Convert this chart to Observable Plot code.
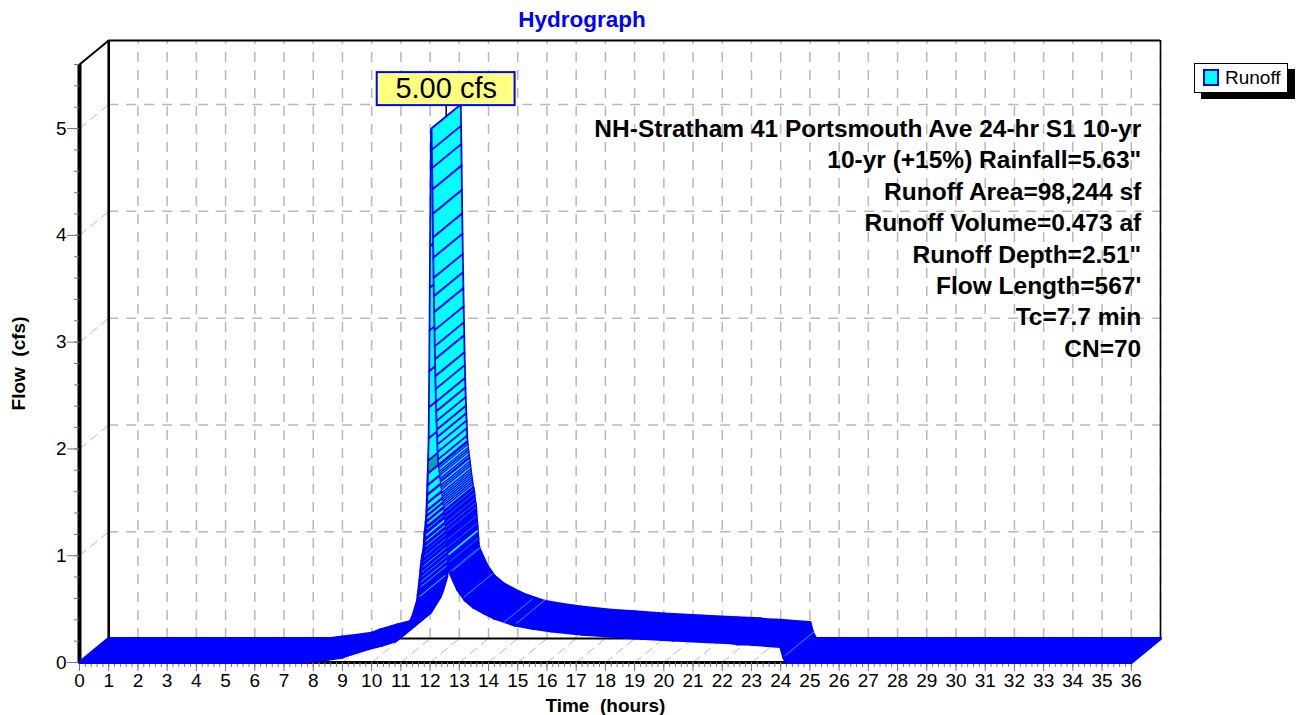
<!DOCTYPE html>
<html>
<head>
<meta charset="utf-8">
<script src="https://cdn.jsdelivr.net/npm/d3@7"></script>
<script src="https://cdn.jsdelivr.net/npm/@observablehq/plot@0.6"></script>
<style>
html,body{margin:0;padding:0;background:#fff;}
#chart{position:absolute;left:0;top:0;width:1302px;height:715px;}
#legend{position:absolute;left:1194px;top:63px;width:92px;height:28px;background:#fff;border:1px solid #000;box-shadow:7px 6px 0 #000;font:19px "Liberation Sans",Arial,sans-serif;color:#000;}
#legend i{position:absolute;left:9px;top:6px;width:12px;height:13px;background:#00ffff;border:1px solid #0000ff;outline:0.5px solid #0000ff;}
#legend span{position:absolute;left:30px;top:3px;}
</style>
</head>
<body>
<div id="chart"></div>
<div id="legend"><i></i><span>Runoff</span></div>
<script>
const titleText = "Hydrograph";
const xTitle = "Time\u00a0 (hours)";
const yTitle = "Flow\u00a0 (cfs)";
const seriesName = "Runoff";
const peakLabel = "5.00 cfs";
const infoLines = [
  "NH-Stratham 41 Portsmouth Ave 24-hr S1 10-yr",
  "10-yr (+15%) Rainfall=5.63\"",
  "Runoff Area=98,244 sf",
  "Runoff Volume=0.473 af",
  "Runoff Depth=2.51\"",
  "Flow Length=567'",
  "Tc=7.7 min",
  "CN=70"
];
const hourTicks = d3.range(0, 37);
const flowTicks = [0, 1, 2, 3, 4, 5];
const minorHourTicks = d3.range(0, 36.01, 0.2);
const minorFlowTicks = d3.range(0, 5.61, 0.2);
const depthHours = 1;
const depthFlow = 0.2247;
const wallTop = 5.6;

// early rise (hours, cfs)
const baseHours = [0, 7.6, 8, 8.5, 9, 9.3, 9.9, 10.34, 10.8, 11.03, 11.34, 11.43, 11.57];
const baseFlow = [0, 0, 0.015, 0.03, 0.05, 0.08, 0.13, 0.16, 0.2, 0.25, 0.39, 0.45, 0.58];
// steep rise
const riseHours = [11.57, 11.59, 11.61, 11.63, 11.65, 11.67, 11.68, 11.7, 11.72, 11.74, 11.78, 11.8, 11.81, 11.82, 11.85, 11.86, 11.87, 11.88, 11.89, 11.9, 11.91, 11.92, 11.93, 11.95, 11.96, 11.97, 11.98, 11.99, 12, 12.03, 12.05];
const riseFlow = [0.58, 0.63, 0.67, 0.72, 0.77, 0.815, 0.86, 0.91, 0.955, 1, 1.05, 1.1, 1.15, 1.21, 1.26, 1.32, 1.37, 1.42, 1.49, 1.57, 1.66, 1.77, 1.89, 2.1, 2.39, 2.73, 3.11, 3.51, 3.9, 4.98, 5];
// steep fall, one reading per 0.01 hour from the peak
const fallStart = 12.05;
const fallFlow = [5, 4.8, 4.63, 4.43, 4.2, 3.98, 3.79, 3.6, 3.43, 3.28, 3.11, 2.96, 2.84, 2.68, 2.56, 2.44, 2.35, 2.26, 2.18, 2.11, 2.04, 1.97, 1.9, 1.85, 1.84, 1.82, 1.79, 1.77, 1.75, 1.72, 1.7, 1.69, 1.66, 1.64, 1.62, 1.59, 1.57, 1.55, 1.53, 1.51, 1.49, 1.47, 1.45, 1.42, 1.4, 1.38, 1.36, 1.34, 1.31, 1.29, 1.27, 1.25, 1.23, 1.19, 1.15, 1.11, 1.08, 1.05, 1.01, 0.97, 0.94, 0.89, 0.85];
// long recession
const tailHours = [12.67, 12.8, 12.95, 13.2, 13.5, 13.87, 14.2, 14.9, 15.5, 16.16, 17.2, 18, 19, 20.3, 21.5, 22.3, 22.5, 23, 23.5, 24, 24.1, 24.2, 36];
const tailFlow = [0.85, 0.77, 0.68, 0.585, 0.515, 0.46, 0.415, 0.35, 0.32, 0.295, 0.265, 0.25, 0.23, 0.21, 0.195, 0.185, 0.175, 0.17, 0.16, 0.15, 0.05, 0, 0];
// thin bright lines left in the solid ribbon
const glintHours = [12.77, 13.15, 14.5, 14.95, 24.15];
const glintFlow = [0.86, 0.61, 0.37, 0.365, 0.065];

const fallHours = fallFlow.map((_, i) => fallStart + i * 0.01);
const peak = 5;
const peakHour = 12.05;

function quads(h, q, from = 0, to = h.length - 1) {
  const rows = [];
  for (let i = from; i < to; i++) {
    const id = i;
    rows.push({id, x: h[i], y: q[i]});
    rows.push({id, x: h[i + 1], y: q[i + 1]});
    rows.push({id, x: h[i + 1] + depthHours, y: q[i + 1] + depthFlow});
    rows.push({id, x: h[i] + depthHours, y: q[i] + depthFlow});
    rows.push({id, x: h[i], y: q[i]});
  }
  return rows;
}
const ribbon = (rows, fill, w = 1.8) =>
  Plot.line(rows, {x: "x", y: "y", z: "id", fill, stroke: "#0000ff", strokeWidth: w, curve: "linear", strokeLinejoin: "round"});

const gray = "#b8b8b8";
const dash = {stroke: gray, strokeWidth: 1.5, strokeDasharray: "10,8"};
const dashDiag = {stroke: gray, strokeWidth: 1, strokeDasharray: "9,5"};
const font = '"Liberation Sans",Arial,sans-serif';
const riseLowEnd = riseFlow.indexOf(1.32);
const tealStart = riseFlow.indexOf(1.77);
const fallDenseStart = fallFlow.indexOf(1.85);
const fallLowStart = fallFlow.indexOf(1.42);
const fallGlints = fallFlow.map((q, i) => ({q, h: fallHours[i], i})).filter(d => d.i >= fallLowStart && d.i % 2 === 0);
const fallBright = fallGlints.filter(d => d.q === 1.01 || d.q === 1.05);

const chart = Plot.plot({
  width: 1302,
  height: 715,
  marginLeft: 79,
  marginRight: 142,
  marginTop: 40,
  marginBottom: 53,
  style: {fontFamily: font, background: "#fff", color: "#000", overflow: "visible"},
  x: {domain: [0, 37], axis: null},
  y: {domain: [0, wallTop + depthFlow], axis: null},
  marks: [
    // back wall and floor grid
    Plot.ruleX(hourTicks.slice(1), {x: d => d + depthHours, y1: depthFlow, y2: wallTop + depthFlow, ...dash}),
    Plot.ruleY(flowTicks.slice(1), {y: d => d + depthFlow, x1: depthHours, x2: 37, ...dash}),
    Plot.link(hourTicks, {x1: d => d, y1: 0, x2: d => d + depthHours, y2: depthFlow, ...dashDiag}),
    Plot.link(flowTicks.slice(1), {x1: 0, y1: d => d, x2: depthHours, y2: d => d + depthFlow, ...dashDiag}),
    // frame
    Plot.ruleX([depthHours], {y1: depthFlow, y2: wallTop + depthFlow, stroke: "#000", strokeWidth: 2.6}),
    Plot.ruleX([37], {y1: depthFlow, y2: wallTop + depthFlow, stroke: "#000", strokeWidth: 1.6}),
    Plot.ruleY([wallTop + depthFlow], {x1: depthHours, x2: 37, stroke: "#000", strokeWidth: 2}),
    Plot.ruleY([depthFlow], {x1: depthHours, x2: 37, stroke: "#000", strokeWidth: 2}),
    Plot.link([0], {x1: 0, y1: wallTop, x2: depthHours, y2: wallTop + depthFlow, stroke: "#000", strokeWidth: 2}),
    Plot.ruleX([0], {y1: 0, y2: wallTop, stroke: "#000", strokeWidth: 4}),
    Plot.ruleY([0], {x1: 0, x2: 36, stroke: "#000", strokeWidth: 3}),
    // axes
    Plot.axisX({ticks: minorHourTicks, tickSize: 5, tickFormat: () => "", stroke: "#777", label: null, anchor: "bottom"}),
    Plot.axisX({ticks: hourTicks, tickSize: 9, tickPadding: 2, fontSize: 19, stroke: "#777", fill: "#000", label: null, anchor: "bottom"}),
    Plot.axisY({ticks: minorFlowTicks, tickSize: 5, tickFormat: () => "", stroke: "#777", label: null, anchor: "left"}),
    Plot.axisY({ticks: flowTicks, tickSize: 12, tickPadding: 1, tickFormat: "d", fontSize: 19, stroke: "#777", fill: "#000", label: null, anchor: "left"}),
    // label leader, drawn under the ribbon top
    Plot.ruleX([peakHour + 0.5], {y1: peak + depthFlow / 2, y2: 5.22, stroke: "#000", strokeWidth: 1.5}),
    // ribbon
    ribbon(quads(baseHours, baseFlow), "#0000ff", 3),
    ribbon(quads(riseHours, riseFlow, 0, riseLowEnd), "#00ffff", 2.9),
    ribbon(quads(riseHours, riseFlow, riseLowEnd, tealStart), "#00ffff", 2.2),
    ribbon(quads(riseHours, riseFlow, tealStart, tealStart + 1), "#00a8a0"),
    ribbon(quads(riseHours, riseFlow, tealStart + 1), "#00ffff"),
    ribbon(quads(fallHours, fallFlow, 0, fallDenseStart), "#00ffff"),
    ribbon(quads(fallHours, fallFlow, fallDenseStart, fallLowStart), "#00ffff", 1.2),
    ribbon(quads(fallHours, fallFlow, fallLowStart), "#0000ff", 2.2),
    ribbon(quads(tailHours, tailFlow), "#0000ff", 3),
    Plot.link(fallGlints, {x1: "h", y1: "q", x2: d => d.h + depthHours, y2: d => d.q + depthFlow, stroke: "#0090ff", strokeWidth: 0.8}),
    Plot.link(fallBright, {x1: "h", y1: "q", x2: d => d.h + depthHours, y2: d => d.q + depthFlow, stroke: "#00ffff", strokeWidth: 1.6}),
    Plot.link(glintHours.map((h, i) => ({h, q: glintFlow[i]})), {x1: "h", y1: "q", x2: d => d.h + depthHours, y2: d => d.q + depthFlow, stroke: "#00aaff", strokeWidth: 1}),
    // peak label
    Plot.rect([peak], {x1: peakHour + 0.5 - 2.36, x2: peakHour + 0.5 + 2.36, y1: 5.215, y2: 5.524, fill: "#ffff80", stroke: "#0000ff", strokeWidth: 2, inset: 0}),
    Plot.text([peakLabel], {x: peakHour + 0.5, y: 5.37, fontSize: 29, fill: "#000", stroke: null}),
    // information block
    Plot.text([infoLines.join("\n")], {x: 36.34, y: 5.13, textAnchor: "end", lineAnchor: "top", lineHeight: 1.282, fontSize: 24.5, fontWeight: "bold", fill: "#000"}),
    // titles
    Plot.text([titleText], {x: 17.2, frameAnchor: "top", dy: -29, fontSize: 22.5, fontWeight: "bold", fill: "#0000ff"}),
    Plot.text([xTitle], {x: 18, frameAnchor: "bottom", dy: 49, fontSize: 19, fontWeight: "bold", fill: "#000"}),
    Plot.text([yTitle], {x: 0, y: 2.8, dx: -61, rotate: -90, fontSize: 19, fontWeight: "bold", fill: "#000"})
  ]
});
document.getElementById("chart").appendChild(chart);
document.querySelector("#legend span").textContent = seriesName;
</script>
</body>
</html>
